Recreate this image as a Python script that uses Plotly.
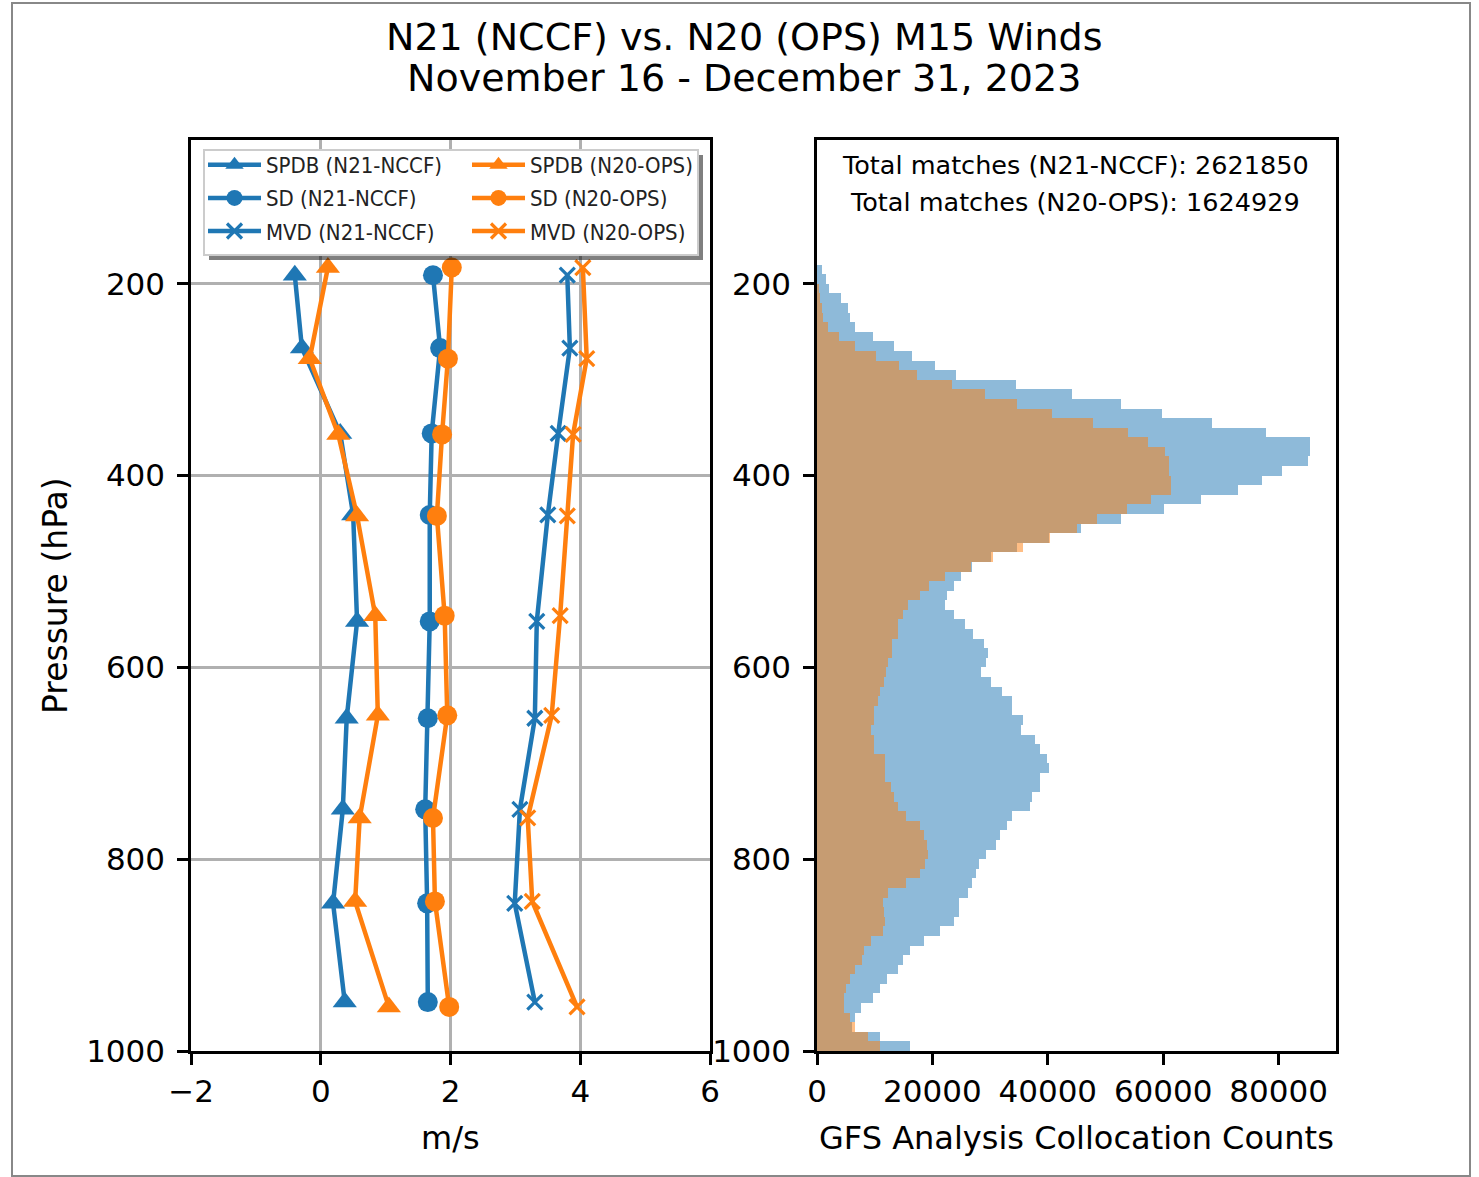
import plotly.graph_objects as go

# ---- Profile statistics (m/s) at mean pressure of each layer ----
p_n21 = [191, 267, 356, 441, 552, 653, 748, 846, 949]
p_n20 = [183, 278, 357, 442, 546, 650, 757, 844, 954]

spdb_n21 = [-0.40, -0.29, 0.30, 0.50, 0.56, 0.40, 0.34, 0.19, 0.37]
spdb_n20 = [0.11, -0.17, 0.27, 0.56, 0.84, 0.88, 0.60, 0.53, 1.05]
sd_n21 = [1.73, 1.84, 1.71, 1.68, 1.68, 1.65, 1.61, 1.64, 1.65]
sd_n20 = [2.02, 1.96, 1.87, 1.79, 1.91, 1.95, 1.73, 1.76, 1.98]
mvd_n21 = [3.80, 3.84, 3.66, 3.50, 3.33, 3.30, 3.07, 2.99, 3.30]
mvd_n20 = [4.04, 4.10, 3.89, 3.80, 3.69, 3.56, 3.19, 3.26, 3.95]

# ---- Collocation counts per 10 hPa pressure bin ----
bin_width = 10
bins_n21 = list(range(180, 1000, 10))
counts_n21 = [
    870, 1560, 2020, 4160, 5320, 5780, 6530, 9720, 13300, 16480,
    20530, 24120, 34530, 44130, 52630, 59740, 68530, 77780, 85420, 85500,
    85070, 80650, 77050, 73000, 66620, 60200, 52600, 45800, 40200, 34700,
    30100, 26900, 24900, 23700, 22600, 22200, 23700, 25700, 26950, 28950,
    29700, 29320, 28500, 30150, 32120, 33750, 33750, 35750, 35390, 37770,
    38570, 39820, 40170, 38570, 38570, 37330, 36980, 33750, 33000, 31720,
    30940, 29320, 28050, 27590, 26890, 26140, 24580, 24580, 23720, 21400,
    18620, 16190, 14920, 14050, 12150, 10990, 9720, 7690, 6540, 6070,
    10870, 16190,
]
bins_n20 = list(range(200, 1000, 10))
counts_n20 = [
    250, 450, 870, 1000, 1910, 3760, 6650, 10240, 14280, 17410,
    23420, 29030, 34580, 40650, 47890, 53840, 57430, 60260, 60960, 60960,
    61420, 61420, 57800, 53800, 48550, 45100, 40450, 35700, 30500, 26700,
    22260, 19350, 17800, 15800, 14950, 14000, 14000, 13050, 13050, 12300,
    11970, 11600, 11000, 10600, 9830, 9830, 9430, 9830, 9830, 11750,
    11750, 11750, 12800, 13300, 14000, 15500, 17870, 18500, 19000, 19300,
    18700, 17800, 15450, 12300, 11500, 11600, 11750, 11480, 9400, 8150,
    7720, 6560, 5750, 4970, 4650, 4650, 5670, 6510, 8870, 10960,
]

total_n21 = 2621850
total_n20 = 1624929

title_lines = ["N21 (NCCF) vs. N20 (OPS) M15 Winds", "November 16 - December 31, 2023"]
pressure_ticks = [200, 400, 600, 800, 1000]
ms_ticks = [-2, 0, 2, 4, 6]
count_ticks = [0, 20000, 40000, 60000, 80000]

BLUE = "#1f77b4"
ORANGE = "#ff7f0e"
W, H = 1479, 1177
LEGEND_FONT = "DejaVu Sans Condensed, Liberation Sans Narrow, DejaVu Sans"


def px_x(x):
    return x / W


def px_y(y):
    return 1 - y / H


fig = go.Figure()

line_w = 4.5
series = [
    ("SPDB (N21-NCCF)", spdb_n21, p_n21, BLUE, "triangle-up", 21, "legend"),
    ("SD (N21-NCCF)", sd_n21, p_n21, BLUE, "circle", 20, "legend"),
    ("MVD (N21-NCCF)", mvd_n21, p_n21, BLUE, "x-thin", 15, "legend"),
    ("SPDB (N20-OPS)", spdb_n20, p_n20, ORANGE, "triangle-up", 21, "legend2"),
    ("SD (N20-OPS)", sd_n20, p_n20, ORANGE, "circle", 20, "legend2"),
    ("MVD (N20-OPS)", mvd_n20, p_n20, ORANGE, "x-thin", 15, "legend2"),
]
for name, xs, ps, col, sym, size, leg in series:
    fig.add_trace(go.Scatter(
        x=xs, y=ps, name=name, mode="lines+markers", legendgroup=name,
        line=dict(color=col, width=line_w),
        marker=dict(symbol=sym, size=size, color=col,
                    line=dict(color=col, width=3.2 if sym == "x-thin" else 0)),
        xaxis="x", yaxis="y", legend=leg,
    ))

# Horizontal histograms of collocation counts
fig.add_trace(go.Bar(
    y=[b + bin_width / 2 for b in bins_n21], x=counts_n21, width=bin_width,
    orientation="h", marker=dict(color=BLUE, line=dict(width=0)), opacity=0.5,
    xaxis="x2", yaxis="y2", showlegend=False, name="N21-NCCF",
))
fig.add_trace(go.Bar(
    y=[b + bin_width / 2 for b in bins_n20], x=counts_n20, width=bin_width,
    orientation="h", marker=dict(color=ORANGE, line=dict(width=0)), opacity=0.5,
    xaxis="x2", yaxis="y2", showlegend=False, name="N20-OPS",
))

tick_font = dict(family="DejaVu Sans", size=31, color="black")
axis_common = dict(
    showline=True, linecolor="black", linewidth=2.5, mirror=True,
    ticks="outside", ticklen=11, tickwidth=2.5, tickcolor="black",
    tickfont=tick_font, zeroline=False, automargin=False,
)
legend_common = dict(
    xanchor="left", yanchor="top", bgcolor="rgba(0,0,0,0)", borderwidth=0,
    tracegroupgap=1.5, itemwidth=53,
    font=dict(family=LEGEND_FONT, size=22, color="#222"),
)

fig.update_layout(
    width=W, height=H,
    margin=dict(l=0, r=0, t=0, b=0, autoexpand=False),
    paper_bgcolor="white", plot_bgcolor="white",
    barmode="overlay", bargap=0,
    font=dict(family="DejaVu Sans", color="black"),
    xaxis=dict(domain=[px_x(191), px_x(710)], range=[-2, 6], tickvals=ms_ticks,
               showgrid=True, gridcolor="#b0b0b0", gridwidth=2.5,
               anchor="y", ticklabelstandoff=0, **axis_common),
    yaxis=dict(domain=[px_y(1051), px_y(140)], range=[1000, 50], tickvals=pressure_ticks,
               showgrid=True, gridcolor="#b0b0b0", gridwidth=2.5,
               anchor="x", ticklabelstandoff=6, **axis_common),
    xaxis2=dict(domain=[px_x(817), px_x(1336)], range=[0, 89950], tickvals=count_ticks,
                tickformat="d", showgrid=False, anchor="y2", ticklabelstandoff=0,
                **axis_common),
    yaxis2=dict(domain=[px_y(1051), px_y(140)], range=[1000, 50], tickvals=pressure_ticks,
                showgrid=False, anchor="x2", ticklabelstandoff=6, **axis_common),
    legend=dict(x=px_x(203), y=px_y(144), **legend_common),
    legend2=dict(x=px_x(467), y=px_y(144), **legend_common),
)

# Legend frame with drop shadow, and outer figure border
fig.add_shape(type="rect", xref="paper", yref="paper",
              x0=px_x(209), x1=px_x(703), y0=px_y(260), y1=px_y(155),
              fillcolor="rgba(0,0,0,0.5)", line=dict(width=0), layer="above")
fig.add_shape(type="rect", xref="paper", yref="paper",
              x0=px_x(204), x1=px_x(698), y0=px_y(255), y1=px_y(150),
              fillcolor="white", line=dict(color="#cccccc", width=2), layer="above")
fig.add_shape(type="rect", xref="paper", yref="paper",
              x0=px_x(12), x1=px_x(1470), y0=px_y(1176), y1=px_y(3),
              fillcolor="rgba(0,0,0,0)", line=dict(color="#888888", width=2), layer="above")

annotations = [
    dict(text=title_lines[0], x=px_x(744), y=px_y(37), xanchor="center",
         yanchor="middle", font=dict(size=38)),
    dict(text=title_lines[1], x=px_x(744), y=px_y(78), xanchor="center",
         yanchor="middle", font=dict(size=38)),
    dict(text="Pressure (hPa)", x=px_x(55), y=px_y(596), textangle=-90,
         xanchor="center", yanchor="middle", font=dict(size=33)),
    dict(text="m/s", x=px_x(450), y=px_y(1138), xanchor="center", yanchor="middle",
         font=dict(size=32)),
    dict(text="GFS Analysis Collocation Counts", x=px_x(1076), y=px_y(1138),
         xanchor="center", yanchor="middle", font=dict(size=32)),
    dict(text=f"Total matches (N21-NCCF): {total_n21}", x=px_x(1075), y=px_y(165),
         xanchor="center", yanchor="middle", font=dict(size=25.5)),
    dict(text=f"Total matches (N20-OPS): {total_n20}", x=px_x(1075), y=px_y(202),
         xanchor="center", yanchor="middle", font=dict(size=25.5)),
]
for a in annotations:
    a.update(xref="paper", yref="paper", showarrow=False)
    a["font"] = dict(family="DejaVu Sans", color="black", **a["font"])
fig.update_layout(annotations=annotations)

fig.write_html("out.html")
